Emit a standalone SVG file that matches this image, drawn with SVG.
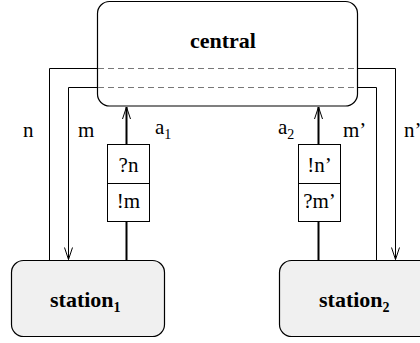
<svg xmlns="http://www.w3.org/2000/svg" width="420" height="343" viewBox="0 0 420 343">
<style>
text,tspan{font-family:"Liberation Serif","Times New Roman",serif;fill:#000}
.b{font-weight:bold;font-size:22px}
.l{font-size:21px}
.s{font-size:14px}
.node{stroke:#000;stroke-width:1.2}
.ln{fill:none;stroke:#000;stroke-width:1}
.th{fill:none;stroke:#000;stroke-width:2}
.dash{fill:none;stroke:#777;stroke-width:1;stroke-dasharray:6 4}
</style>
<defs>
<marker id="v" viewBox="-13 -6 14 12" refX="0" refY="0" markerWidth="14" markerHeight="12" markerUnits="userSpaceOnUse" orient="auto">
<path d="M-12,-4 L0,0 L-12,4" fill="none" stroke="#000" stroke-width="1"/>
</marker>
</defs>
<g id="central">
<rect class="node" x="97.5" y="1.5" width="260" height="104.5" rx="12" fill="#fff"/>
<text class="b" x="223" y="48" text-anchor="middle">central</text>
<line class="dash" x1="98" y1="68.5" x2="357" y2="68.5"/>
<line class="dash" x1="98" y1="87.5" x2="357" y2="87.5"/>
</g>
<g id="station1">
<rect class="node" x="11.5" y="260.5" width="153" height="76" rx="12" fill="#f0f0f0"/>
<text class="b" x="50" y="307">station<tspan class="s" dy="5">1</tspan></text>
</g>
<g id="station2">
<rect class="node" x="279.5" y="260.5" width="160" height="76" rx="12" fill="#f0f0f0"/>
<text class="b" x="319" y="307">station<tspan class="s" dy="5">2</tspan></text>
</g>
<g id="box1">
<rect class="ln" x="107.5" y="144.5" width="42" height="77" fill="#fff"/>
<line class="ln" x1="107.5" y1="183.5" x2="149.5" y2="183.5"/>
<text class="l" x="128.5" y="172" text-anchor="middle">?n</text>
<text class="l" x="128.5" y="208" text-anchor="middle">!m</text>
</g>
<g id="box2">
<rect class="ln" x="298.5" y="144.5" width="42" height="77" fill="#fff"/>
<line class="ln" x1="298.5" y1="183.5" x2="340.5" y2="183.5"/>
<text class="l" x="319.5" y="172" text-anchor="middle">!n’</text>
<text class="l" x="319.5" y="208" text-anchor="middle">?m’</text>
</g>
<g id="connectors">
<polyline class="ln" points="97,68.5 49.5,68.5 49.5,260"/>
<polyline class="ln" points="97,87.5 68.5,87.5 68.5,259.5" marker-end="url(#v)"/>
<polyline class="ln" points="358,68.5 395.5,68.5 395.5,259.5" marker-end="url(#v)"/>
<polyline class="ln" points="358,87.5 376.5,87.5 376.5,260"/>
<line class="th" x1="126.5" y1="144" x2="126.5" y2="107" marker-end="url(#v)"/>
<line class="th" x1="126.5" y1="222" x2="126.5" y2="260"/>
<line class="th" x1="318.5" y1="144" x2="318.5" y2="107" marker-end="url(#v)"/>
<line class="th" x1="318.5" y1="222" x2="318.5" y2="260"/>
<text class="l" x="23" y="137">n</text>
<text class="l" x="78" y="137">m</text>
<text class="l" x="155" y="134">a<tspan class="s" dy="5">1</tspan></text>
<text class="l" x="278" y="134">a<tspan class="s" dy="5">2</tspan></text>
<text class="l" x="343" y="137">m’</text>
<text class="l" x="404" y="137">n’</text>
</g>
</svg>
